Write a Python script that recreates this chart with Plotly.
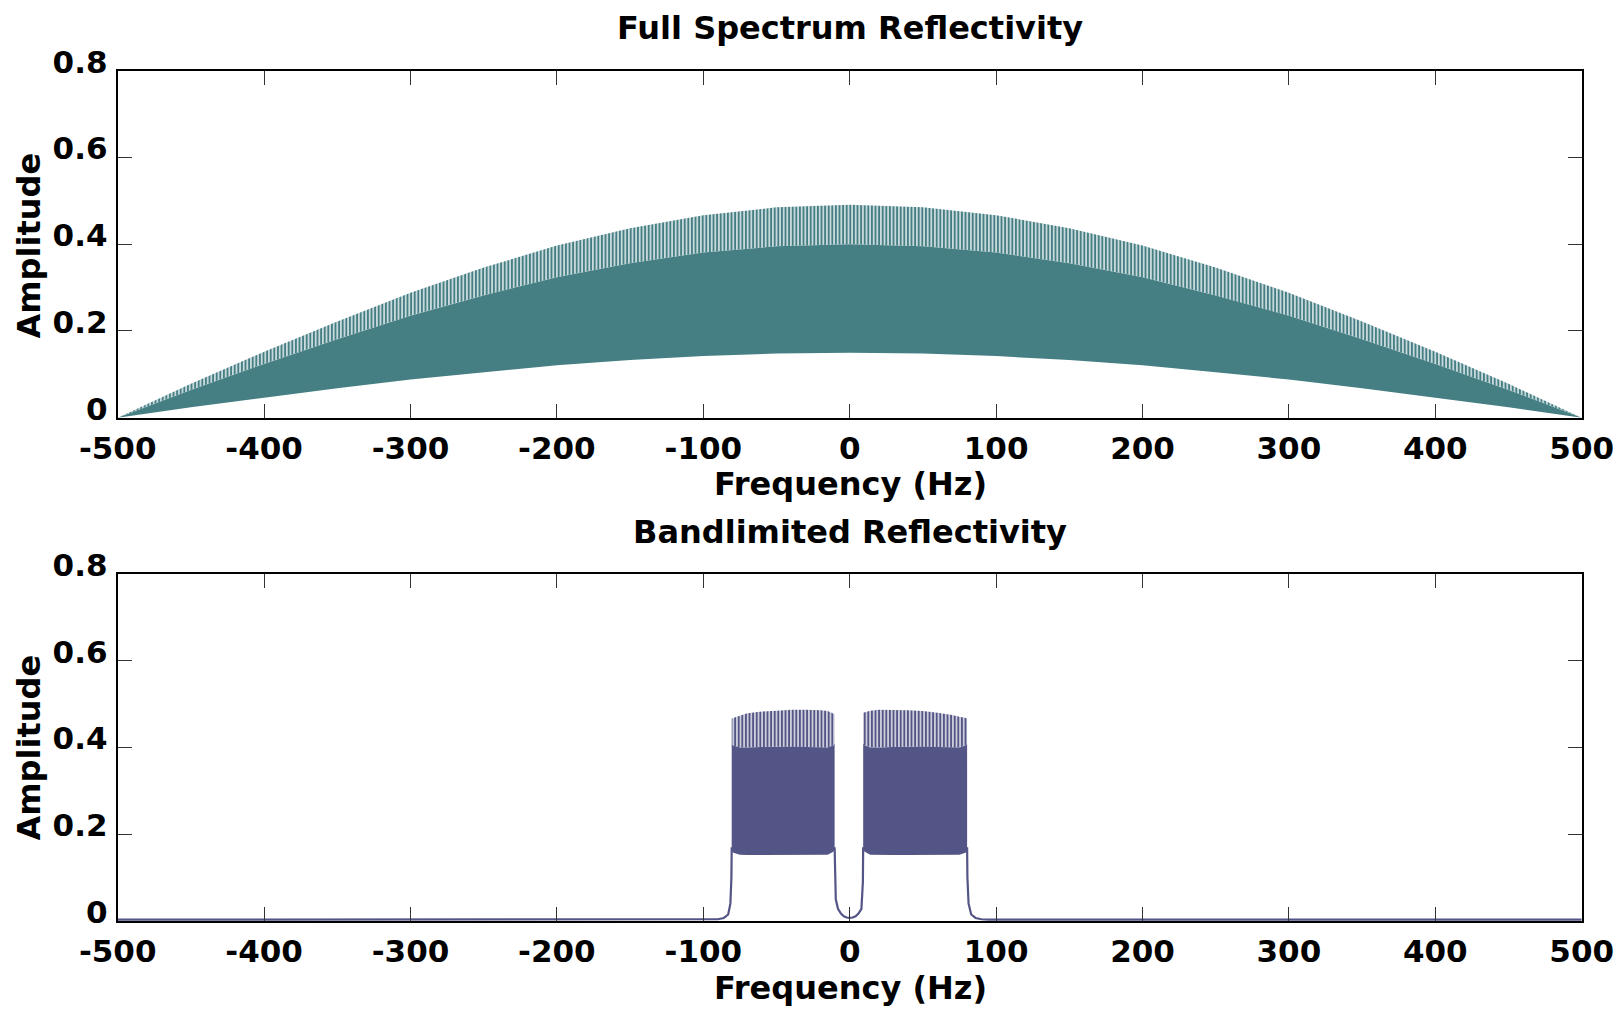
import plotly.graph_objects as go

# ---- data -------------------------------------------------------------
# Full-spectrum reflectivity: envelope of the dense amplitude spectrum
freq_env = [-500, -450, -400, -350, -300, -250, -200, -150, -100, -50, 0,
            50, 100, 150, 200, 250, 300, 350, 400, 450, 500]
full_peak = [0.0, 0.078, 0.152, 0.222, 0.288, 0.346, 0.397, 0.437, 0.467, 0.485, 0.491,
             0.485, 0.467, 0.437, 0.397, 0.346, 0.288, 0.222, 0.152, 0.078, 0.0]
full_body = [0.0, 0.064, 0.124, 0.181, 0.235, 0.282, 0.324, 0.356, 0.381, 0.395, 0.400,
             0.395, 0.381, 0.356, 0.324, 0.282, 0.235, 0.181, 0.124, 0.064, 0.0]
full_floor = [0.0, 0.024, 0.046, 0.068, 0.088, 0.105, 0.121, 0.133, 0.142, 0.148, 0.150,
              0.148, 0.142, 0.133, 0.121, 0.105, 0.088, 0.068, 0.046, 0.024, 0.0]

# Bandlimited reflectivity: the two pass bands
band_neg_f = [-80.6, -80.0, -75, -70, -60, -50, -40, -30, -20, -15, -11, -10.3]
band_pos_f = [9.2, 10.0, 14, 20, 30, 40, 50, 60, 70, 75, 79.5, 80.2]
band_neg_floor = [0.17, 0.158, 0.153, 0.152, 0.152, 0.152, 0.152, 0.152, 0.152, 0.153, 0.16, 0.17]
band_neg_body = [0.41, 0.405, 0.400, 0.400, 0.401, 0.402, 0.402, 0.401, 0.400, 0.400, 0.405, 0.41]
band_neg_peak = [0.467, 0.468, 0.474, 0.479, 0.483, 0.485, 0.487, 0.487, 0.486, 0.484, 0.478, 0.476]
band_pos_floor = [0.17, 0.16, 0.153, 0.152, 0.152, 0.152, 0.152, 0.152, 0.152, 0.153, 0.158, 0.17]
band_pos_body = [0.41, 0.405, 0.400, 0.400, 0.401, 0.402, 0.402, 0.401, 0.400, 0.400, 0.405, 0.41]
band_pos_peak = [0.48, 0.482, 0.485, 0.487, 0.487, 0.486, 0.484, 0.480, 0.475, 0.471, 0.468, 0.467]

# Band edges and the floor outside the pass bands
edge_left_f = [-500, -95, -90, -86, -83, -81.5, -80.8, -80.6]
edge_left_a = [0.003, 0.003, 0.004, 0.007, 0.015, 0.04, 0.10, 0.17]
notch_f = [-10.3, -10.0, -9.5, -8, -6, -4, -2, 0, 2, 4, 6, 8, 8.5, 9.0, 9.2]
notch_a = [0.17, 0.09, 0.05, 0.028, 0.017, 0.011, 0.008, 0.007, 0.008, 0.011, 0.017, 0.028, 0.05, 0.09, 0.17]
edge_right_f = [80.2, 80.4, 81.2, 83, 86, 90, 95, 500]
edge_right_a = [0.17, 0.10, 0.04, 0.015, 0.007, 0.004, 0.003, 0.003]

x_ticks = [-500, -400, -300, -200, -100, 0, 100, 200, 300, 400, 500]
x_tick_text = ["-500", "-400", "-300", "-200", "-100", "0", "100", "200", "300", "400", "500"]
y_ticks = [0, 0.2, 0.4, 0.6, 0.8]
y_tick_text = ["0", "0.2", "0.4", "0.6", "0.8"]

# ---- styling ----------------------------------------------------------
TEAL = "#457f84"
INDIGO = "#535586"
TITLE_FONT = dict(family="DejaVu Sans", size=32, color="black", weight="bold")
TICK_FONT = dict(family="DejaVu Sans", size=31, color="black", weight="bold")


def band_polygon(f, lo, hi):
    """Closed outline between a lower and an upper envelope."""
    return list(f) + list(reversed(f)), list(lo) + list(reversed(hi))


def spikes(color):
    return dict(shape="|", size=3.6, solidity=0.65, fgcolor=color,
                bgcolor="rgba(0,0,0,0)", fillmode="replace")


fig = go.Figure()

# Top panel: dense body plus the spiky crest
px, py = band_polygon(freq_env, full_floor, full_body)
fig.add_trace(go.Scatter(x=px, y=py, fill="toself", fillcolor=TEAL,
                         line=dict(width=0), mode="lines",
                         xaxis="x", yaxis="y", hoverinfo="skip"))
px, py = band_polygon(freq_env, full_body, full_peak)
fig.add_trace(go.Scatter(x=px, y=py, fill="toself", fillcolor="rgba(0,0,0,0)",
                         fillpattern=spikes(TEAL), line=dict(width=0), mode="lines",
                         xaxis="x", yaxis="y", hoverinfo="skip"))

# Bottom panel: both pass bands
for bf, blo, bmid, bhi in [(band_neg_f, band_neg_floor, band_neg_body, band_neg_peak),
                           (band_pos_f, band_pos_floor, band_pos_body, band_pos_peak)]:
    px, py = band_polygon(bf, blo, bmid)
    fig.add_trace(go.Scatter(x=px, y=py, fill="toself", fillcolor=INDIGO,
                             line=dict(width=0), mode="lines",
                             xaxis="x2", yaxis="y2", hoverinfo="skip"))
    px, py = band_polygon(bf, bmid, bhi)
    fig.add_trace(go.Scatter(x=px, y=py, fill="toself", fillcolor="rgba(0,0,0,0)",
                             fillpattern=spikes(INDIGO), line=dict(width=0), mode="lines",
                             xaxis="x2", yaxis="y2", hoverinfo="skip"))

edge_x = edge_left_f + [None] + notch_f + [None] + edge_right_f
edge_y = edge_left_a + [None] + notch_a + [None] + edge_right_a
fig.add_trace(go.Scatter(x=edge_x, y=edge_y, mode="lines",
                         line=dict(color=INDIGO, width=2.2),
                         xaxis="x2", yaxis="y2", hoverinfo="skip", connectgaps=False))

axis_common = dict(
    showline=True, linecolor="black", linewidth=2, mirror="ticks",
    ticks="inside", ticklen=14, tickwidth=1, tickcolor="#333333",
    showgrid=False, zeroline=False, tickfont=TICK_FONT, automargin=False,
)
x_dom = [117.7 / 1619, 1581.7 / 1619]
fig.update_layout(
    width=1619, height=1009,
    margin=dict(l=0, r=0, t=0, b=0),
    paper_bgcolor="white", plot_bgcolor="white",
    showlegend=False,
    xaxis=dict(domain=x_dom, range=[-500, 500], anchor="y",
               tickvals=x_ticks, ticktext=x_tick_text, ticklabelstandoff=2, **axis_common),
    yaxis=dict(domain=[1 - 417.7 / 1009, 1 - 70.7 / 1009], range=[0, 0.8], anchor="x",
               tickvals=y_ticks, ticktext=y_tick_text, ticklabelstandoff=2,
               ticklabelshift=-9, **axis_common),
    xaxis2=dict(domain=x_dom, range=[-500, 500], anchor="y2",
                tickvals=x_ticks, ticktext=x_tick_text, ticklabelstandoff=2, **axis_common),
    yaxis2=dict(domain=[1 - 921 / 1009, 1 - 574 / 1009], range=[0, 0.8], anchor="x2",
                tickvals=y_ticks, ticktext=y_tick_text, ticklabelstandoff=2,
                ticklabelshift=-9, **axis_common),
)

xc = 850 / 1619
labels = [
    ("Full Spectrum Reflectivity", xc, 28, 0),
    ("Frequency (Hz)", xc, 484, 0),
    ("Bandlimited Reflectivity", xc, 532, 0),
    ("Frequency (Hz)", xc, 988, 0),
    ("Amplitude", 28.5 / 1619, 246, -90),
    ("Amplitude", 28.5 / 1619, 748, -90),
]
for text, x, ypx, ang in labels:
    fig.add_annotation(text=text, x=x, y=1 - ypx / 1009, xref="paper", yref="paper",
                       xanchor="center", yanchor="middle", showarrow=False,
                       textangle=ang, font=TITLE_FONT)

fig.write_html("out.html")
